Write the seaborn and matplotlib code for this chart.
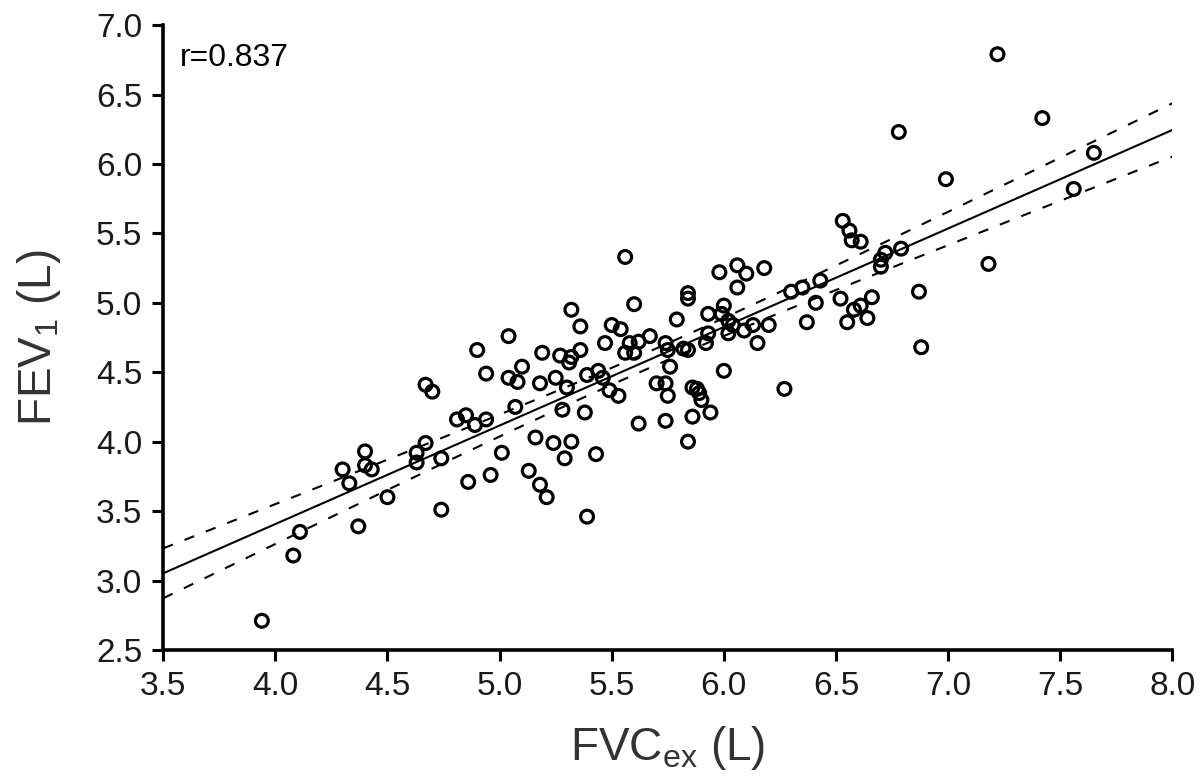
import numpy as np
import pandas as pd
import matplotlib
matplotlib.use("Agg")
import matplotlib.pyplot as plt
import seaborn as sns

# FVCex (L)
fvc = [3.94, 4.08, 4.11, 4.30, 4.40, 4.40, 4.33, 4.37, 4.50, 4.63, 4.63, 4.67, 4.67, 4.70,
       4.74, 4.74, 4.81, 4.85, 4.89, 4.94, 4.90, 4.94, 4.86, 4.96, 5.56, 5.60, 5.84, 5.84,
       5.32, 5.36, 5.04, 5.79, 5.50, 5.54, 5.47, 5.58, 5.62, 5.67, 5.56, 5.60, 5.74, 5.75,
       5.84, 5.19, 5.27, 5.32, 5.36, 5.10, 5.04, 5.08, 5.18, 5.25, 5.30, 5.39, 5.44, 5.46,
       5.49, 5.53, 5.70, 5.74, 5.75, 5.76, 5.86, 5.86, 5.62, 5.74, 5.84, 5.38, 5.28, 5.07,
       5.16, 5.24, 5.32, 5.01, 5.29, 5.43, 5.13, 5.18, 5.21, 5.39, 6.99, 6.53, 6.56, 6.57,
       6.61, 6.06, 6.10, 5.98, 6.18, 6.06, 6.00, 5.93, 5.99, 6.02, 6.04, 6.09, 6.13, 6.20,
       6.15, 6.00, 6.27, 5.88, 5.90, 5.94, 6.30, 6.35, 6.43, 6.41, 6.52, 6.37, 6.55, 6.61,
       6.66, 6.64, 6.87, 6.88, 6.70, 6.79, 7.22, 7.42, 6.78, 7.65, 7.56, 7.18, 6.72, 6.70,
       5.31, 5.93, 6.02, 5.92, 5.82, 5.89, 4.43, 6.58]
# FEV1 (L)
fev1 = [2.71, 3.18, 3.35, 3.80, 3.93, 3.83, 3.70, 3.39, 3.60, 3.92, 3.85, 3.99, 4.41, 4.36,
        3.51, 3.88, 4.16, 4.19, 4.12, 4.16, 4.66, 4.49, 3.71, 3.76, 5.33, 4.99, 5.07, 5.03,
        4.95, 4.83, 4.76, 4.88, 4.84, 4.81, 4.71, 4.71, 4.72, 4.76, 4.64, 4.64, 4.71, 4.66,
        4.66, 4.64, 4.62, 4.61, 4.66, 4.54, 4.46, 4.43, 4.42, 4.46, 4.39, 4.48, 4.51, 4.46,
        4.37, 4.33, 4.42, 4.42, 4.33, 4.54, 4.39, 4.18, 4.13, 4.15, 4.00, 4.21, 4.23, 4.25,
        4.03, 3.99, 4.00, 3.92, 3.88, 3.91, 3.79, 3.69, 3.60, 3.46, 5.89, 5.59, 5.52, 5.45,
        5.44, 5.27, 5.21, 5.22, 5.25, 5.11, 4.98, 4.92, 4.92, 4.87, 4.84, 4.80, 4.84, 4.84,
        4.71, 4.51, 4.38, 4.38, 4.30, 4.21, 5.08, 5.11, 5.16, 5.00, 5.03, 4.86, 4.86, 4.98,
        5.04, 4.89, 5.08, 4.68, 5.31, 5.39, 6.79, 6.33, 6.23, 6.08, 5.82, 5.28, 5.36, 5.26,
        4.57, 4.78, 4.78, 4.71, 4.67, 4.35, 3.80, 4.95]

r_label = "r=0.837"
x_ticks = [3.5, 4.0, 4.5, 5.0, 5.5, 6.0, 6.5, 7.0, 7.5, 8.0]
y_ticks = [2.5, 3.0, 3.5, 4.0, 4.5, 5.0, 5.5, 6.0, 6.5, 7.0]

df = pd.DataFrame({"FVC": fvc, "FEV1": fev1})

# Linear regression with 95% confidence band of the mean
x = np.asarray(fvc)
y = np.asarray(fev1)
n = len(x)
slope, intercept = np.polyfit(x, y, 1)
resid = y - (slope * x + intercept)
s = np.sqrt(np.sum(resid ** 2) / (n - 2))
xm = x.mean()
sxx = np.sum((x - xm) ** 2)
tval = 1.977
xg = np.linspace(3.5, 8.0, 200)
yg = slope * xg + intercept
half = tval * s * np.sqrt(1.0 / n + (xg - xm) ** 2 / sxx)
fit = pd.DataFrame({"x": xg, "y": yg, "lo": yg - half, "hi": yg + half})

sns.set_theme(style="ticks")
plt.rcParams["font.family"] = ["Liberation Sans", "DejaVu Sans"]
plt.rcParams["mathtext.default"] = "regular"

fig = plt.figure(figsize=(12, 7.84), dpi=100)
ax = fig.add_axes([0.136, 0.171, 0.841, 0.797])

sns.lineplot(data=fit, x="x", y="y", ax=ax, color="black", linewidth=1.5)
sns.lineplot(data=fit, x="x", y="lo", ax=ax, color="black", linewidth=1.5,
             linestyle=(0, (5, 6)))
sns.lineplot(data=fit, x="x", y="hi", ax=ax, color="black", linewidth=1.5,
             linestyle=(0, (5, 6)))

sns.scatterplot(data=df, x="FVC", y="FEV1", ax=ax, marker="o", s=85,
                linewidth=2.3, zorder=3)
coll = ax.collections[-1]
coll.set_facecolor("none")
coll.set_edgecolor("black")

ax.set_xlim(3.5, 8.0)
ax.set_ylim(2.5, 7.0)
ax.set_xticks(x_ticks)
ax.set_yticks(y_ticks)
ax.set_xticklabels([f"{v:.1f}" for v in x_ticks])
ax.set_yticklabels([f"{v:.1f}" for v in y_ticks])
ax.tick_params(axis="both", labelsize=24, width=2.2, length=8, color="black",
               labelcolor="#1a1a1a", pad=7)
for sp in ["left", "bottom"]:
    ax.spines[sp].set_linewidth(2.6)
    ax.spines[sp].set_color("black")
sns.despine(ax=ax)

ax.set_xlabel("FVC$_{ex}$ (L)", fontsize=33, color="#333333", labelpad=16)
ax.set_ylabel("FEV$_1$ (L)", fontsize=33, color="#333333", labelpad=24)

ax.text(0.017, 0.972, r_label, transform=ax.transAxes, fontsize=23,
        ha="left", va="top", color="black")

fig.savefig("out.png", dpi=100)
